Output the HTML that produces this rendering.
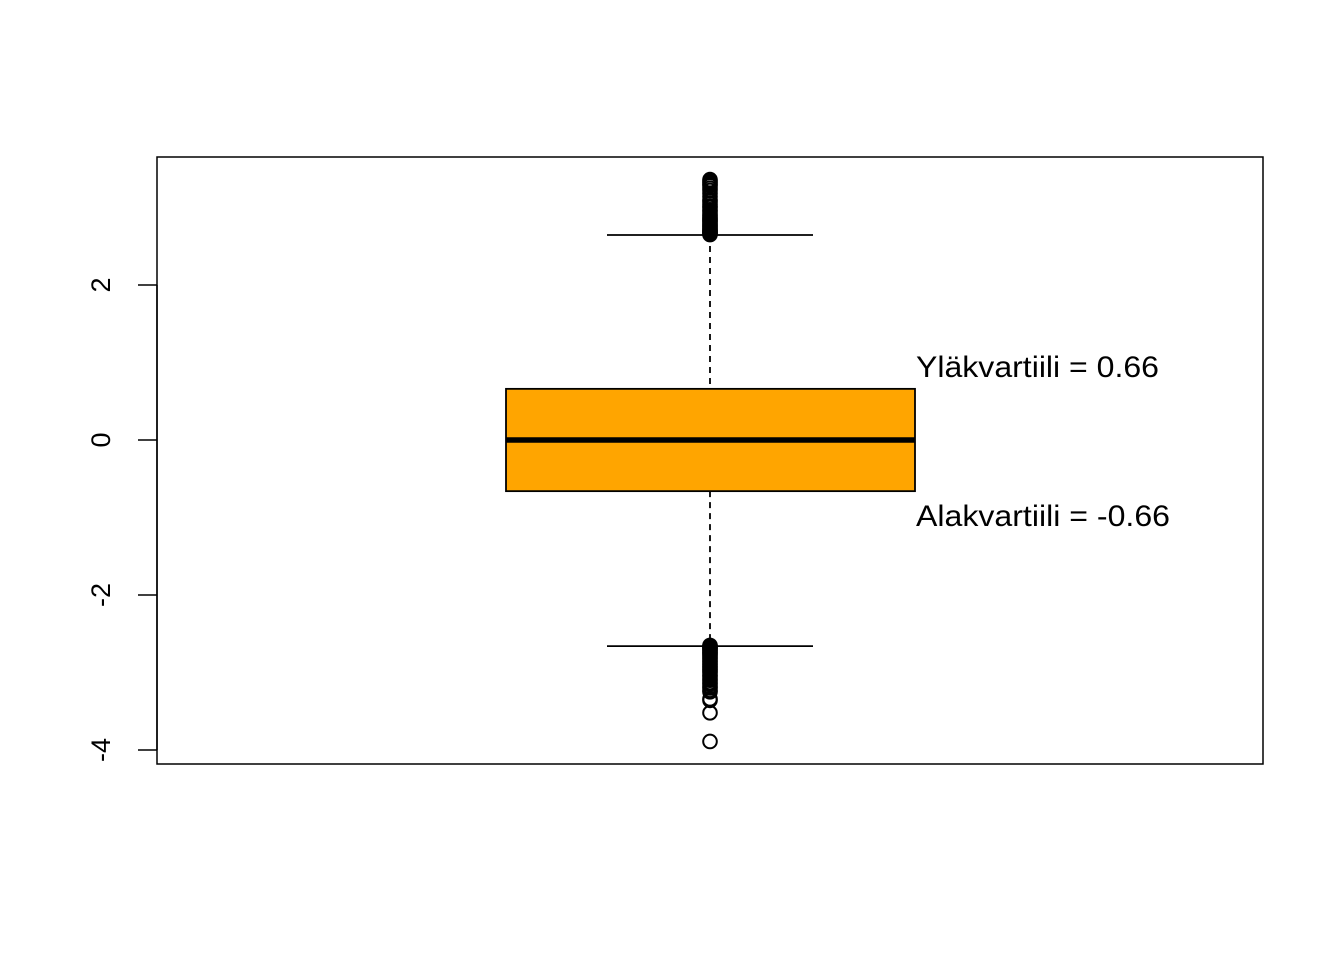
<!DOCTYPE html>
<html><head><meta charset="utf-8"><style>body{margin:0;background:#fff}svg{display:block}</style></head>
<body>
<svg id="chart" width="1344" height="960" xmlns="http://www.w3.org/2000/svg" font-family="Liberation Sans, sans-serif">
<rect x="157" y="157" width="1106" height="607" fill="none" stroke="#000" stroke-width="1.5"/>
<g id="axis"></g>
<g id="box"></g>
</svg>
<script>
const yTicks = [-4, -2, 0, 2];
const stats = { lowerWhisker: -2.66, q1: -0.66, median: 0, q3: 0.66, upperWhisker: 2.645 };
const upperOutliers = [2.65, 2.66, 2.67, 2.68, 2.69, 2.7, 2.71, 2.72, 2.74, 2.75, 2.77, 2.78, 2.8, 2.82, 2.83, 2.85, 2.86, 2.88, 2.9, 2.92, 2.95, 2.97, 3.0, 3.02, 3.05, 3.08, 3.1, 3.14, 3.18, 3.22, 3.25, 3.28, 3.3, 3.32, 3.34, 3.36];
const lowerOutliers = [-2.65, -2.66, -2.67, -2.68, -2.69, -2.7, -2.72, -2.73, -2.75, -2.76, -2.78, -2.8, -2.82, -2.84, -2.86, -2.88, -2.9, -2.92, -2.94, -2.96, -2.98, -3.0, -3.03, -3.05, -3.08, -3.1, -3.13, -3.15, -3.18, -3.2, -3.23, -3.25, -3.34, -3.36, -3.52, -3.89];
const annotations = ["Yläkvartiili = 0.66", "Alakvartiili = -0.66"];

const NS = "http://www.w3.org/2000/svg";
const y = v => 440 - v * 77.5;
const cx = 710;
function mk(tag, attrs, parent) {
  const e = document.createElementNS(NS, tag);
  for (const k in attrs) e.setAttribute(k, attrs[k]);
  parent.appendChild(e); return e;
}
const ax = document.getElementById('axis');
const l = mk('line', {x1:157, x2:157, y1:y(yTicks[0]), y2:y(yTicks[yTicks.length-1]), stroke:'#000', 'stroke-width':1.5}, ax);


yTicks.forEach(t => {
  const tk = mk('line', {x1:138, x2:157, y1:y(t), y2:y(t), stroke:'#000', 'stroke-width':1.5}, ax);
  
  
  const tx = mk('text', {x:0, y:0, 'font-size':27, 'text-anchor':'middle', transform:`translate(110,${y(t)}) rotate(-90)`}, ax);
  tx.textContent = t;
  
  
});
const g = document.getElementById('box');
const dash = {stroke:'#000', 'stroke-width':1.8, 'stroke-dasharray':'6,5'};
const w1 = mk('line', Object.assign({x1:cx, x2:cx, y1:y(stats.upperWhisker), y2:y(stats.q3)}, dash), g);


const w2 = mk('line', Object.assign({x1:cx, x2:cx, y1:y(stats.q1), y2:y(stats.lowerWhisker)}, dash), g);


const c1 = mk('line', {x1:607, x2:813, y1:y(stats.upperWhisker), y2:y(stats.upperWhisker), stroke:'#000', 'stroke-width':1.8}, g);


const c2 = mk('line', {x1:607, x2:813, y1:y(stats.lowerWhisker), y2:y(stats.lowerWhisker), stroke:'#000', 'stroke-width':1.8}, g);


const r = mk('rect', {x:506, width:409, y:y(stats.q3), height:y(stats.q1)-y(stats.q3), fill:'#FFA500', stroke:'#000', 'stroke-width':1.8}, g);


const m = mk('line', {x1:506, x2:915, y1:y(stats.median), y2:y(stats.median), stroke:'#000', 'stroke-width':5.5}, g);


upperOutliers.concat(lowerOutliers).forEach(v => {
  const c = mk('circle', {cx:cx, cy:y(v), r:6.8, fill:'none', stroke:'#000', 'stroke-width':2}, g);
  
  
});
const a1 = mk('text', {x:916, y:y(stats.q3)-12, 'font-size':30, textLength:243, lengthAdjust:'spacingAndGlyphs'}, g);
a1.textContent = annotations[0];


const a2 = mk('text', {x:916, y:y(stats.q1)+35, 'font-size':30, textLength:254, lengthAdjust:'spacingAndGlyphs'}, g);
a2.textContent = annotations[1];


</script>
</body></html>
